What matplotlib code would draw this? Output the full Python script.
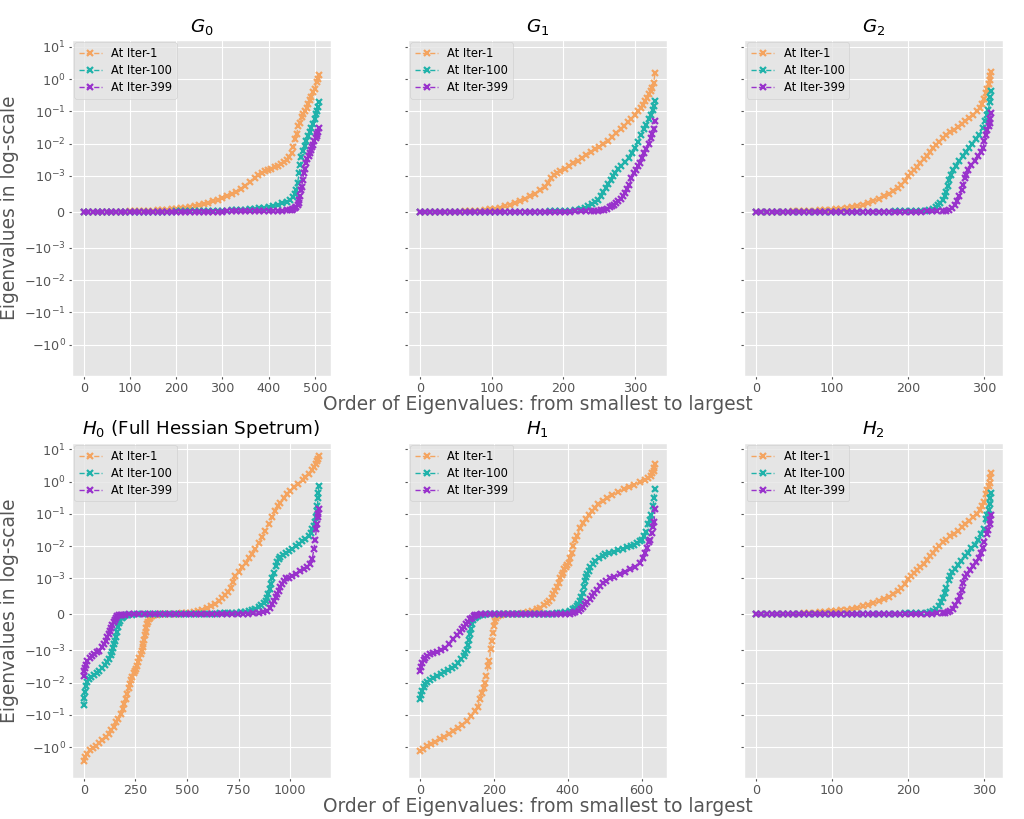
import matplotlib
matplotlib.use("Agg")
import matplotlib.pyplot as plt
from matplotlib.ticker import MultipleLocator
import numpy as np

plt.style.use("ggplot")

LABELS = ["At Iter-1", "At Iter-100", "At Iter-399"]
COLORS = ["#F4A460", "#20B2AA", "#9932CC"]

# (eigenvalue order, eigenvalue) pairs
G0_IT1 = [(0, 1e-6), (10, 1e-6), (20, 2e-6), (30, 2e-6), (40, 3e-6), (50, 4e-6), (60, 5e-6), (70, 6e-6),
          (80, 8e-6), (90, 1e-5), (100, 1.2e-5), (110, 1.5e-5), (120, 2e-5), (130, 2.5e-5), (140, 3e-5),
          (150, 3.6e-5), (160, 4.5e-5), (170, 5.5e-5), (180, 6.5e-5), (190, 8e-5), (200, 9e-5),
          (210, 1.05e-4), (220, 1.2e-4), (230, 1.4e-4), (240, 1.6e-4), (250, 1.85e-4), (260, 2.1e-4),
          (270, 2.5e-4), (280, 2.9e-4), (290, 3.3e-4), (300, 3.8e-4), (310, 4.4e-4), (320, 5e-4),
          (330, 5.6e-4), (340, 6.4e-4), (350, 7.2e-4), (360, 8.2e-4), (370, 9.5e-4), (378, 1.1e-3),
          (385, 1.25e-3), (392, 1.4e-3), (399, 1.5e-3), (406, 1.7e-3), (413, 1.9e-3), (420, 2.1e-3),
          (427, 2.4e-3), (434, 2.8e-3), (440, 3.2e-3), (445, 4e-3), (450, 5.1e-3), (454, 8e-3),
          (457, 1.35e-2), (461, 2e-2), (464, 3.4e-2), (468, 4.5e-2), (472, 6.5e-2), (475, 8.1e-2),
          (479, 0.1), (483, 0.13), (486, 0.166), (490, 0.22), (493, 0.28), (496, 0.39), (500, 0.5),
          (504, 0.79), (507, 1.0), (509, 1.35)]
G0_IT100 = [(0, 1e-6), (10, 1e-6), (20, 1e-6), (30, 1e-6), (40, 2e-6), (50, 2e-6), (60, 2e-6), (70, 3e-6),
            (80, 3e-6), (90, 3e-6), (100, 4e-6), (110, 4e-6), (120, 5e-6), (130, 5e-6), (140, 6e-6),
            (150, 6e-6), (160, 7e-6), (170, 8e-6), (180, 9e-6), (190, 1e-5), (200, 1.1e-5), (210, 1.2e-5),
            (220, 1.3e-5), (230, 1.5e-5), (240, 1.7e-5), (250, 1.9e-5), (260, 2.1e-5), (270, 2.4e-5),
            (280, 2.7e-5), (290, 3e-5), (300, 3.3e-5), (310, 3.7e-5), (320, 4.1e-5), (330, 4.5e-5),
            (340, 5e-5), (350, 6e-5), (360, 7e-5), (370, 8.5e-5), (380, 1e-4), (390, 1.2e-4),
            (400, 1.45e-4), (410, 1.7e-4), (420, 2e-4), (430, 2.4e-4), (439, 2.8e-4), (446, 3.4e-4),
            (453, 4.2e-4), (457, 5e-4), (460, 6e-4), (463, 8e-4), (466, 1.2e-3), (469, 2.2e-3),
            (471, 4e-3), (474, 5.8e-3), (478, 8.3e-3), (482, 1.2e-2), (486, 1.7e-2), (489, 2.3e-2),
            (493, 3.1e-2), (496, 4.2e-2), (500, 5.6e-2), (503, 8e-2), (505, 0.1), (507, 0.14), (509, 0.2)]
G0_IT399 = [(0, 1e-6), (10, 1e-6), (20, 1e-6), (30, 1e-6), (40, 1e-6), (50, 1e-6), (60, 2e-6), (70, 2e-6),
            (80, 2e-6), (90, 2e-6), (100, 2e-6), (110, 3e-6), (120, 3e-6), (130, 3e-6), (140, 3e-6),
            (150, 4e-6), (160, 4e-6), (170, 4e-6), (180, 5e-6), (190, 5e-6), (200, 5e-6), (210, 6e-6),
            (220, 6e-6), (230, 7e-6), (240, 7e-6), (250, 8e-6), (260, 8e-6), (270, 9e-6), (280, 9e-6),
            (290, 1e-5), (300, 1e-5), (310, 1.1e-5), (320, 1.1e-5), (330, 1.2e-5), (340, 1.3e-5),
            (350, 1.4e-5), (360, 1.5e-5), (370, 1.6e-5), (380, 1.7e-5), (390, 1.8e-5), (400, 1.9e-5),
            (410, 2e-5), (420, 2.5e-5), (430, 3e-5), (440, 4e-5), (446, 4.7e-5), (450, 6e-5), (454, 8e-5),
            (457, 1.1e-4), (460, 1.4e-4), (463, 2e-4), (465, 2.6e-4), (467, 3.3e-4), (469, 4.5e-4),
            (471, 6e-4), (472, 7e-4), (474, 9e-4), (476, 1.2e-3), (478, 1.6e-3), (481, 2.5e-3),
            (484, 3.3e-3), (487, 4.3e-3), (489, 5.1e-3), (492, 6.5e-3), (494, 7.8e-3), (496, 9.3e-3),
            (499, 1.2e-2), (502, 1.5e-2), (504, 1.7e-2), (506, 2e-2), (507, 2.3e-2), (509, 3.1e-2)]

G1_IT1 = [(0, 1e-6), (7, 1e-6), (14, 2e-6), (21, 2e-6), (28, 3e-6), (35, 4e-6), (42, 5e-6), (49, 7e-6),
          (56, 9e-6), (63, 1.2e-5), (70, 1.8e-5), (77, 2.5e-5), (84, 3.5e-5), (91, 5e-5), (98, 7e-5),
          (105, 9e-5), (112, 1.2e-4), (119, 1.5e-4), (126, 1.9e-4), (133, 2.4e-4), (140, 3e-4),
          (147, 3.6e-4), (154, 4.3e-4), (161, 5.1e-4), (168, 6e-4), (174, 6.9e-4), (179, 8e-4),
          (183, 9.3e-4), (187, 1.05e-3), (191, 1.2e-3), (196, 1.4e-3), (202, 1.7e-3), (208, 2.1e-3),
          (214, 2.6e-3), (220, 3e-3), (226, 3.6e-3), (232, 4.4e-3), (238, 5.4e-3), (244, 6.6e-3),
          (250, 8e-3), (256, 1e-2), (262, 1.25e-2), (268, 1.6e-2), (274, 2.2e-2), (280, 2.9e-2),
          (285, 3.6e-2), (290, 4.6e-2), (295, 6e-2), (300, 7.8e-2), (304, 0.1), (308, 0.13),
          (311, 0.16), (314, 0.21), (317, 0.26), (320, 0.34), (322, 0.42), (324, 0.53), (326, 0.76),
          (328, 1.5)]
G1_IT100 = [(0, 1e-6), (7, 1e-6), (14, 1e-6), (21, 1e-6), (28, 1e-6), (35, 1e-6), (42, 1e-6), (49, 1e-6),
            (56, 2e-6), (63, 2e-6), (70, 2e-6), (77, 2e-6), (84, 2e-6), (91, 2e-6), (98, 2e-6),
            (105, 3e-6), (112, 3e-6), (119, 4e-6), (126, 4e-6), (133, 5e-6), (140, 5e-6), (147, 6e-6),
            (154, 7e-6), (161, 8e-6), (168, 9e-6), (175, 1e-5), (182, 1.2e-5), (189, 1.3e-5),
            (196, 1.5e-5), (203, 2.2e-5), (210, 3.2e-5), (217, 5.5e-5), (224, 8e-5), (230, 1.15e-4),
            (235, 1.55e-4), (240, 2.1e-4), (244, 2.7e-4), (248, 3.4e-4), (252, 4.3e-4), (256, 5.4e-4),
            (260, 6.7e-4), (263, 7.8e-4), (266, 8.8e-4), (269, 1e-3), (272, 1.2e-3), (276, 1.6e-3),
            (281, 2.1e-3), (286, 2.7e-3), (291, 3.6e-3), (296, 5.2e-3), (300, 7.4e-3), (304, 1.1e-2),
            (309, 1.9e-2), (313, 2.8e-2), (316, 3.9e-2), (319, 5.6e-2), (322, 7.5e-2), (325, 0.11),
            (327, 0.15), (328, 0.21)]
G1_IT399 = [(0, 1e-6), (7, 1e-6), (14, 1e-6), (21, 1e-6), (28, 1e-6), (35, 1e-6), (42, 1e-6), (49, 1e-6),
            (56, 1e-6), (63, 1e-6), (70, 2e-6), (77, 2e-6), (84, 2e-6), (91, 2e-6), (98, 2e-6),
            (105, 2e-6), (112, 3e-6), (119, 3e-6), (126, 3e-6), (133, 3e-6), (140, 4e-6), (147, 4e-6),
            (154, 4e-6), (161, 5e-6), (168, 5e-6), (175, 6e-6), (182, 6e-6), (189, 7e-6), (196, 8e-6),
            (203, 9e-6), (210, 1e-5), (217, 1.1e-5), (224, 1.3e-5), (231, 1.5e-5), (238, 1.8e-5),
            (243, 2.2e-5), (248, 3.2e-5), (253, 4.8e-5), (257, 6.5e-5), (261, 9e-5), (265, 1.3e-4),
            (268, 1.65e-4), (271, 2e-4), (274, 2.5e-4), (277, 3e-4), (280, 3.7e-4), (283, 4.5e-4),
            (286, 5.3e-4), (289, 6.3e-4), (292, 7.4e-4), (295, 9.5e-4), (298, 1.2e-3), (301, 1.55e-3),
            (304, 2e-3), (307, 2.6e-3), (310, 3.6e-3), (313, 5e-3), (316, 7e-3), (319, 1e-2),
            (322, 1.5e-2), (324, 2e-2), (326, 2.8e-2), (328, 4.9e-2)]

G2_IT1 = [(0, 1e-6), (7, 1e-6), (14, 2e-6), (21, 3e-6), (28, 4e-6), (35, 6e-6), (42, 8e-6), (49, 1.1e-5),
          (56, 1.5e-5), (63, 2e-5), (70, 2.5e-5), (77, 3e-5), (84, 4e-5), (91, 5e-5), (98, 6e-5),
          (105, 7.5e-5), (112, 9e-5), (119, 1.05e-4), (126, 1.25e-4), (133, 1.5e-4), (140, 2e-4),
          (147, 2.4e-4), (154, 3e-4), (161, 3.6e-4), (168, 4.3e-4), (174, 5e-4), (180, 5.8e-4),
          (186, 6.7e-4), (191, 7.6e-4), (196, 8.7e-4), (200, 1e-3), (204, 1.25e-3), (208, 1.55e-3),
          (212, 1.95e-3), (216, 2.5e-3), (220, 3.3e-3), (224, 4.2e-3), (228, 5.4e-3), (232, 7.4e-3),
          (236, 9e-3), (240, 1.1e-2), (245, 1.5e-2), (250, 1.85e-2), (255, 2.25e-2), (260, 2.7e-2),
          (265, 3.3e-2), (270, 4.1e-2), (275, 5e-2), (280, 6.2e-2), (285, 7.9e-2), (290, 0.1),
          (294, 0.13), (297, 0.17), (300, 0.24), (302, 0.37), (304, 0.5), (306, 0.7), (307, 0.96),
          (308, 1.2), (309, 1.7)]
G2_IT100 = [(0, 1e-6), (7, 1e-6), (14, 1e-6), (21, 1e-6), (28, 1e-6), (35, 1e-6), (42, 1e-6), (49, 2e-6),
            (56, 2e-6), (63, 2e-6), (70, 2e-6), (77, 2e-6), (84, 3e-6), (91, 3e-6), (98, 3e-6),
            (105, 3e-6), (112, 4e-6), (119, 4e-6), (126, 5e-6), (133, 5e-6), (140, 6e-6), (147, 6e-6),
            (154, 7e-6), (161, 8e-6), (168, 9e-6), (175, 1e-5), (182, 1.1e-5), (189, 1.2e-5),
            (196, 1.3e-5), (203, 1.5e-5), (210, 1.7e-5), (217, 2e-5), (222, 2.5e-5), (227, 4.5e-5),
            (232, 8e-5), (236, 1.3e-4), (239, 1.9e-4), (242, 2.6e-4), (245, 3.4e-4), (248, 4.4e-4),
            (250, 5.5e-4), (252, 7.2e-4), (254, 9e-4), (256, 1.1e-3), (259, 1.5e-3), (263, 2e-3),
            (267, 2.9e-3), (272, 4.1e-3), (276, 5.6e-3), (280, 7.4e-3), (284, 9.5e-3), (289, 1.35e-2),
            (293, 1.9e-2), (298, 3.1e-2), (301, 5e-2), (303, 7.5e-2), (305, 0.11), (307, 0.19),
            (308, 0.28), (309, 0.42)]
G2_IT399 = [(0, 1e-6), (7, 1e-6), (14, 1e-6), (21, 1e-6), (28, 1e-6), (35, 1e-6), (42, 1e-6), (49, 1e-6),
            (56, 1e-6), (63, 2e-6), (70, 2e-6), (77, 2e-6), (84, 2e-6), (91, 2e-6), (98, 2e-6),
            (105, 3e-6), (112, 3e-6), (119, 3e-6), (126, 3e-6), (133, 4e-6), (140, 4e-6), (147, 4e-6),
            (154, 5e-6), (161, 5e-6), (168, 6e-6), (175, 6e-6), (182, 7e-6), (189, 7e-6), (196, 8e-6),
            (203, 8e-6), (210, 9e-6), (217, 1e-5), (224, 1.1e-5), (231, 1.2e-5), (238, 1.3e-5),
            (245, 1.5e-5), (250, 2e-5), (254, 6e-5), (257, 1.1e-4), (261, 2e-4), (264, 3e-4),
            (267, 4.4e-4), (270, 6e-4), (272, 7.6e-4), (274, 9.3e-4), (276, 1.1e-3), (279, 1.5e-3),
            (283, 2.2e-3), (287, 3e-3), (291, 4.1e-3), (295, 5.6e-3), (298, 7.4e-3), (300, 1.2e-2),
            (302, 1.9e-2), (304, 2.6e-2), (306, 3.5e-2), (307, 4.4e-2), (308, 6e-2), (309, 8.9e-2)]

H0_IT1 = [(0, -2.6), (8, -2.0), (18, -1.6), (30, -1.25), (44, -1.05), (58, -0.89), (74, -0.74), (90, -0.6),
          (106, -0.49), (120, -0.39), (134, -0.3), (147, -0.24), (158, -0.17), (168, -0.13),
          (179, -0.093), (188, -0.065), (196, -0.045), (203, -0.032), (210, -0.022), (217, -0.015),
          (224, -0.011), (230, -0.0085), (236, -0.0068), (242, -0.0052), (247, -0.0044),
          (252, -0.0038), (258, -0.003), (264, -0.0023), (270, -0.0017), (276, -0.0013),
          (281, -1.05e-3), (285, -9e-4), (289, -8.2e-4), (293, -7e-4), (297, -5.8e-4), (300, -5e-4),
          (304, -3.8e-4), (308, -2.8e-4), (311, -2.2e-4), (315, -1.4e-4), (319, -9e-5),
          (324, -5.5e-5), (330, -3.5e-5), (340, -1.5e-5), (355, -5e-6), (375, 1e-6), (395, 3e-6),
          (415, 5e-6), (435, 9e-6), (455, 1.5e-5), (475, 2.5e-5), (495, 3.7e-5), (515, 5e-5),
          (535, 6.8e-5), (555, 9.5e-5), (575, 1.25e-4), (595, 1.65e-4), (615, 2.2e-4), (635, 2.8e-4),
          (655, 3.6e-4), (671, 4.5e-4), (685, 5.4e-4), (698, 6.3e-4), (711, 7.3e-4), (722, 9e-4),
          (735, 1.2e-3), (752, 1.6e-3), (768, 2.2e-3), (784, 3e-3), (800, 4.2e-3), (816, 5.8e-3),
          (832, 8.3e-3), (848, 1.25e-2), (865, 1.9e-2), (880, 2.9e-2), (897, 4.8e-2), (913, 7.8e-2),
          (928, 0.12), (943, 0.17), (953, 0.22), (968, 0.3), (985, 0.4), (1000, 0.5), (1020, 0.67),
          (1040, 0.86), (1060, 1.1), (1074, 1.35), (1090, 1.75), (1105, 2.3), (1115, 2.8),
          (1123, 3.5), (1131, 4.3), (1136, 5.0), (1139, 6.0)]
H0_IT100 = [(0, -0.05), (3, -0.03), (6, -0.02), (10, -0.0126), (16, -0.0095), (24, -0.008), (34, -0.0069),
            (48, -0.0058), (62, -0.005), (74, -0.0043), (88, -0.0035), (102, -0.0029), (115, -0.0023),
            (124, -0.0018), (131, -0.0014), (137, -0.0011), (143, -9.5e-4), (148, -8.3e-4),
            (153, -7.3e-4), (158, -6.2e-4), (163, -4.8e-4), (168, -3.5e-4), (173, -2.5e-4),
            (178, -1.8e-4), (184, -1.1e-4), (190, -7e-5), (197, -4e-5), (205, -2e-5), (215, -1e-5),
            (235, -5e-6), (260, -2e-6), (285, 1e-6), (310, 1e-6), (335, 2e-6), (360, 2e-6), (385, 3e-6),
            (410, 3e-6), (435, 4e-6), (460, 5e-6), (485, 6e-6), (510, 7e-6), (535, 9e-6), (560, 1.1e-5),
            (585, 1.3e-5), (610, 1.6e-5), (635, 2e-5), (660, 2.5e-5), (685, 3e-5), (700, 3.4e-5),
            (719, 3.7e-5), (740, 4.5e-5), (760, 5.5e-5), (780, 7e-5), (800, 9e-5), (815, 1.1e-4),
            (830, 1.4e-4), (848, 2e-4), (860, 2.5e-4), (872, 3.2e-4), (881, 3.8e-4), (888, 4.6e-4),
            (894, 5.6e-4), (900, 7e-4), (906, 8.6e-4), (913, 1.07e-3), (920, 1.5e-3), (929, 2.5e-3),
            (938, 3.2e-3), (946, 3.9e-3), (953, 4.5e-3), (965, 5.3e-3), (980, 6.2e-3), (994, 7.2e-3),
            (1010, 8.4e-3), (1026, 1e-2), (1042, 1.2e-2), (1058, 1.4e-2), (1074, 1.7e-2), (1090, 2.1e-2),
            (1100, 2.6e-2), (1108, 3.3e-2), (1115, 4.3e-2), (1120, 5.5e-2), (1125, 8e-2), (1129, 0.12),
            (1132, 0.18), (1135, 0.3), (1137, 0.45), (1139, 0.74)]
H0_IT399 = [(0, -0.0062), (3, -0.0045), (6, -0.0035), (10, -0.0028), (18, -0.0021), (28, -0.0017),
            (38, -0.0015), (50, -0.0013), (62, -0.00115), (76, -1.03e-3), (90, -9.2e-4), (100, -8.3e-4),
            (108, -7.3e-4), (115, -6.4e-4), (122, -5.4e-4), (128, -4.6e-4), (134, -3.8e-4), (139, -3e-4),
            (145, -2.2e-4), (151, -1.5e-4), (157, -1e-4), (163, -5.5e-5), (170, -3e-5), (179, -1.5e-5),
            (187, -1e-5), (200, -5e-6), (220, -2e-6), (245, -1e-6), (270, 1e-6), (295, 1e-6), (320, 1e-6),
            (345, 2e-6), (370, 2e-6), (395, 2e-6), (420, 3e-6), (445, 3e-6), (470, 4e-6), (495, 4e-6),
            (520, 5e-6), (545, 6e-6), (570, 7e-6), (595, 8e-6), (620, 9e-6), (645, 1e-5), (670, 1.1e-5),
            (695, 1.3e-5), (720, 1.5e-5), (745, 1.7e-5), (770, 2e-5), (795, 2.4e-5), (820, 3e-5),
            (848, 3.7e-5), (870, 6.5e-5), (889, 1e-4), (901, 1.8e-4), (913, 2.9e-4), (921, 3.8e-4),
            (929, 4.8e-4), (937, 5.7e-4), (945, 6.6e-4), (953, 7.6e-4), (961, 8.5e-4), (970, 9.3e-4),
            (980, 1e-3), (994, 1.07e-3), (1010, 1.2e-3), (1026, 1.4e-3), (1046, 1.65e-3), (1066, 1.95e-3),
            (1082, 2.3e-3), (1098, 2.8e-3), (1107, 4e-3), (1115, 8.1e-3), (1121, 1.5e-2), (1127, 3.4e-2),
            (1131, 5e-2), (1135, 8e-2), (1137, 0.1), (1139, 0.14)]

H1_IT1 = [(0, -1.3), (9, -1.1), (18, -0.95), (30, -0.8), (42, -0.67), (54, -0.57), (66, -0.48), (78, -0.4),
          (90, -0.32), (102, -0.26), (114, -0.2), (126, -0.155), (138, -0.11), (149, -0.076),
          (156, -0.055), (162, -0.033), (168, -0.021), (172, -0.015), (176, -0.01), (180, -0.0062),
          (185, -0.0031), (188, -0.0021), (191, -9.7e-4), (194, -7.4e-4), (197, -5.1e-4), (200, -3.3e-4),
          (203, -1.9e-4), (207, -1e-4), (212, -4.6e-5), (220, -1.5e-5), (235, 1e-6), (250, 5e-6),
          (265, 1.5e-5), (280, 4.6e-5), (292, 7e-5), (304, 1e-4), (316, 1.4e-4), (326, 1.9e-4),
          (336, 2.6e-4), (343, 3.1e-4), (350, 3.8e-4), (356, 4.6e-4), (361, 5.6e-4), (366, 6.6e-4),
          (371, 7.7e-4), (375, 8.8e-4), (379, 1.05e-3), (383, 1.3e-3), (386, 1.5e-3), (390, 1.9e-3),
          (394, 2.3e-3), (398, 2.7e-3), (402, 3.1e-3), (406, 4.2e-3), (410, 6.2e-3), (415, 1e-2),
          (420, 1.5e-2), (425, 2.1e-2), (433, 3.7e-2), (440, 5.2e-2), (448, 7e-2), (456, 9.5e-2),
          (465, 0.12), (474, 0.155), (483, 0.195), (495, 0.25), (507, 0.31), (520, 0.38), (535, 0.46),
          (551, 0.57), (566, 0.68), (580, 0.8), (595, 0.95), (608, 1.1), (618, 1.3), (624, 1.5),
          (628, 1.8), (632, 2.1), (634, 2.7), (636, 3.6)]
H1_IT100 = [(0, -0.033), (3, -0.024), (6, -0.018), (10, -0.014), (14, -0.0112), (20, -0.0095), (28, -0.0083),
            (36, -0.0071), (46, -0.0062), (56, -0.0055), (66, -0.0048), (76, -0.0042), (86, -0.0036),
            (96, -0.003), (104, -0.0024), (112, -0.0019), (118, -0.0015), (122, -0.0012), (126, -1e-3),
            (129, -8.5e-4), (132, -7.2e-4), (135, -5.6e-4), (138, -4e-4), (141, -2.6e-4), (144, -1.7e-4),
            (148, -1e-4), (152, -6e-5), (157, -3.5e-5), (162, -2e-5), (170, -1e-5), (180, -2e-6),
            (192, 1e-6), (204, 1e-6), (216, 2e-6), (228, 2e-6), (240, 3e-6), (252, 3e-6), (264, 4e-6),
            (276, 5e-6), (288, 6e-6), (300, 7e-6), (312, 8e-6), (324, 1e-5), (336, 1.2e-5), (348, 1.6e-5),
            (360, 2.2e-5), (370, 2.8e-5), (380, 4e-5), (392, 6e-5), (406, 9e-5), (414, 1.4e-4),
            (420, 1.9e-4), (424, 2.3e-4), (428, 3e-4), (432, 3.8e-4), (436, 4.8e-4), (440, 6e-4),
            (444, 7.6e-4), (447, 9.3e-4), (450, 1.15e-3), (453, 1.4e-3), (456, 1.7e-3), (461, 2.2e-3),
            (467, 2.8e-3), (474, 3.5e-3), (484, 4.3e-3), (494, 5.1e-3), (501, 5.6e-3), (512, 6.2e-3),
            (524, 6.8e-3), (536, 7.5e-3), (548, 8.3e-3), (560, 9.3e-3), (570, 1.02e-2), (578, 1.1e-2),
            (586, 1.25e-2), (594, 1.45e-2), (600, 1.6e-2), (606, 2e-2), (612, 2.7e-2), (618, 4.7e-2),
            (622, 6.5e-2), (626, 9e-2), (630, 0.17), (633, 0.3), (636, 0.6)]
H1_IT399 = [(0, -0.0044), (3, -0.0032), (6, -0.0025), (10, -0.002), (14, -0.0017), (20, -0.0015),
            (28, -0.0013), (36, -0.0012), (46, -0.0011), (56, -1e-3), (68, -9.3e-4), (78, -8.2e-4),
            (90, -6.9e-4), (100, -5.7e-4), (108, -4.8e-4), (113, -4.2e-4), (118, -3.5e-4), (124, -2.7e-4),
            (130, -2e-4), (135, -1.4e-4), (140, -9e-5), (145, -5e-5), (149, -2e-5), (155, -1e-5),
            (165, -2e-6), (177, 1e-6), (189, 1e-6), (201, 1e-6), (213, 2e-6), (225, 2e-6), (237, 2e-6),
            (249, 3e-6), (261, 3e-6), (273, 3e-6), (285, 4e-6), (297, 4e-6), (309, 5e-6), (321, 5e-6),
            (333, 6e-6), (345, 7e-6), (357, 8e-6), (369, 9e-6), (381, 1.1e-5), (393, 1.4e-5), (406, 2e-5),
            (413, 3.5e-5), (420, 5.5e-5), (429, 9e-5), (436, 1.4e-4), (442, 2e-4), (447, 2.8e-4),
            (453, 3.5e-4), (459, 4.3e-4), (465, 5.1e-4), (472, 6e-4), (479, 6.9e-4), (487, 7.9e-4),
            (495, 8.7e-4), (504, 9.4e-4), (514, 1e-3), (526, 1.15e-3), (542, 1.35e-3), (556, 1.6e-3),
            (569, 1.9e-3), (582, 2.3e-3), (596, 3.1e-3), (603, 4.2e-3), (609, 6.3e-3), (614, 9e-3),
            (619, 1.3e-2), (623, 1.6e-2), (627, 2.5e-2), (630, 3.8e-2), (633, 5.4e-2), (636, 0.14)]

H2_IT1 = [(0, 1e-6), (7, 2e-6), (14, 3e-6), (21, 5e-6), (28, 7e-6), (35, 9e-6), (42, 1.2e-5), (49, 1.6e-5),
          (56, 2e-5), (63, 3e-5), (70, 3.7e-5), (77, 4.5e-5), (84, 5.5e-5), (91, 7e-5), (98, 8.5e-5),
          (105, 1e-4), (112, 1.15e-4), (119, 1.35e-4), (126, 1.55e-4), (133, 1.8e-4), (140, 2.2e-4),
          (147, 2.6e-4), (154, 3.1e-4), (161, 3.6e-4), (168, 4.3e-4), (174, 4.9e-4), (180, 5.6e-4),
          (186, 6.4e-4), (191, 7.4e-4), (196, 8.5e-4), (200, 9.8e-4), (204, 1.2e-3), (208, 1.45e-3),
          (212, 1.8e-3), (216, 2.3e-3), (220, 2.9e-3), (224, 3.7e-3), (228, 4.9e-3), (232, 6.3e-3),
          (236, 8e-3), (240, 1e-2), (245, 1.3e-2), (250, 1.6e-2), (255, 2e-2), (260, 2.4e-2),
          (265, 3e-2), (270, 3.8e-2), (275, 4.7e-2), (280, 6e-2), (285, 8.1e-2), (290, 0.1),
          (294, 0.13), (297, 0.17), (300, 0.24), (302, 0.4), (304, 0.55), (306, 0.75), (307, 0.91),
          (308, 1.3), (309, 1.9)]
H2_IT100 = [(0, 1e-6), (7, 1e-6), (14, 1e-6), (21, 1e-6), (28, 2e-6), (35, 2e-6), (42, 2e-6), (49, 2e-6),
            (56, 3e-6), (63, 3e-6), (70, 3e-6), (77, 4e-6), (84, 4e-6), (91, 5e-6), (98, 5e-6),
            (105, 6e-6), (112, 6e-6), (119, 7e-6), (126, 8e-6), (133, 9e-6), (140, 1e-5), (147, 1.1e-5),
            (154, 1.2e-5), (161, 1.4e-5), (168, 1.6e-5), (175, 1.8e-5), (182, 2e-5), (189, 2.2e-5),
            (196, 2.5e-5), (203, 2.8e-5), (210, 3.1e-5), (217, 3.4e-5), (224, 3.7e-5), (228, 6e-5),
            (232, 9e-5), (236, 1.5e-4), (240, 2.3e-4), (243, 3.5e-4), (245, 4.7e-4), (248, 6e-4),
            (250, 7.4e-4), (253, 9.5e-4), (255, 1.2e-3), (258, 1.6e-3), (261, 2e-3), (265, 2.7e-3),
            (269, 3.5e-3), (274, 4.8e-3), (278, 6.3e-3), (283, 8.5e-3), (287, 1.1e-2), (292, 1.6e-2),
            (296, 2.3e-2), (299, 3.3e-2), (302, 6.8e-2), (304, 9e-2), (306, 0.13), (307, 0.195),
            (308, 0.3), (309, 0.45)]
H2_IT399 = [(0, 1e-6), (7, 1e-6), (14, 1e-6), (21, 1e-6), (28, 1e-6), (35, 1e-6), (42, 2e-6), (49, 2e-6),
            (56, 2e-6), (63, 2e-6), (70, 2e-6), (77, 3e-6), (84, 3e-6), (91, 3e-6), (98, 4e-6),
            (105, 4e-6), (112, 4e-6), (119, 5e-6), (126, 5e-6), (133, 6e-6), (140, 6e-6), (147, 7e-6),
            (154, 7e-6), (161, 8e-6), (168, 9e-6), (175, 1e-5), (182, 1.1e-5), (189, 1.2e-5),
            (196, 1.3e-5), (203, 1.5e-5), (210, 1.7e-5), (217, 1.9e-5), (224, 2.1e-5), (231, 2.3e-5),
            (238, 2.5e-5), (245, 2.8e-5), (248, 3e-5), (252, 5.5e-5), (255, 9e-5), (259, 1.6e-4),
            (262, 2.5e-4), (265, 3.6e-4), (268, 5.1e-4), (270, 6.8e-4), (272, 8.8e-4), (274, 1.1e-3),
            (277, 1.35e-3), (281, 1.8e-3), (285, 2.4e-3), (289, 3.3e-3), (293, 4.4e-3), (296, 6e-3),
            (298, 8.9e-3), (300, 1.3e-2), (303, 2.3e-2), (305, 3.2e-2), (307, 4.7e-2), (308, 6.5e-2),
            (309, 9.5e-2)]

TITLES = ["$G_0$", "$G_1$", "$G_2$", "$H_0$ (Full Hessian Spetrum)", "$H_1$", "$H_2$"]
X_STEPS = [100, 100, 100, 250, 200, 100]
PANELS = [
    [G0_IT1, G0_IT100, G0_IT399],
    [G1_IT1, G1_IT100, G1_IT399],
    [G2_IT1, G2_IT100, G2_IT399],
    [H0_IT1, H0_IT100, H0_IT399],
    [H1_IT1, H1_IT100, H1_IT399],
    [H2_IT1, H2_IT100, H2_IT399],
]

fig, axes = plt.subplots(2, 3, figsize=(10.24, 8.19), dpi=100, sharey=True)
fig.subplots_adjust(left=0.0703, right=0.9795, bottom=0.050, top=0.951, wspace=0.30, hspace=0.20)

for ax, title, step, series in zip(axes.flat, TITLES, X_STEPS, PANELS):
    for pairs, lab, col in zip(series, LABELS, COLORS):
        xy = np.array(pairs)
        ax.plot(xy[:, 0], xy[:, 1], linestyle="--", marker="x", color=col, lw=1,
                markersize=5, markeredgewidth=1.6, label=lab)
    ax.set_yscale("symlog", linthresh=1e-3)
    ax.xaxis.set_major_locator(MultipleLocator(step))
    ax.set_title(title, fontsize=13.2)
    ax.tick_params(labelsize=9.2, length=2.5, pad=2)
    ax.legend(loc="upper left", fontsize=8.3, borderaxespad=0.2, labelspacing=0.35,
              markerscale=0.75)

axes[0, 0].set_ylim(-9, 16)
for r in range(2):
    axes[r, 0].set_ylabel("Eigenvalues in log-scale", fontsize=13.4, labelpad=4)
    axes[r, 1].set_xlabel("Order of Eigenvalues: from smallest to largest", fontsize=13.4, labelpad=0)

fig.savefig("out.png", dpi=100, facecolor="white")
